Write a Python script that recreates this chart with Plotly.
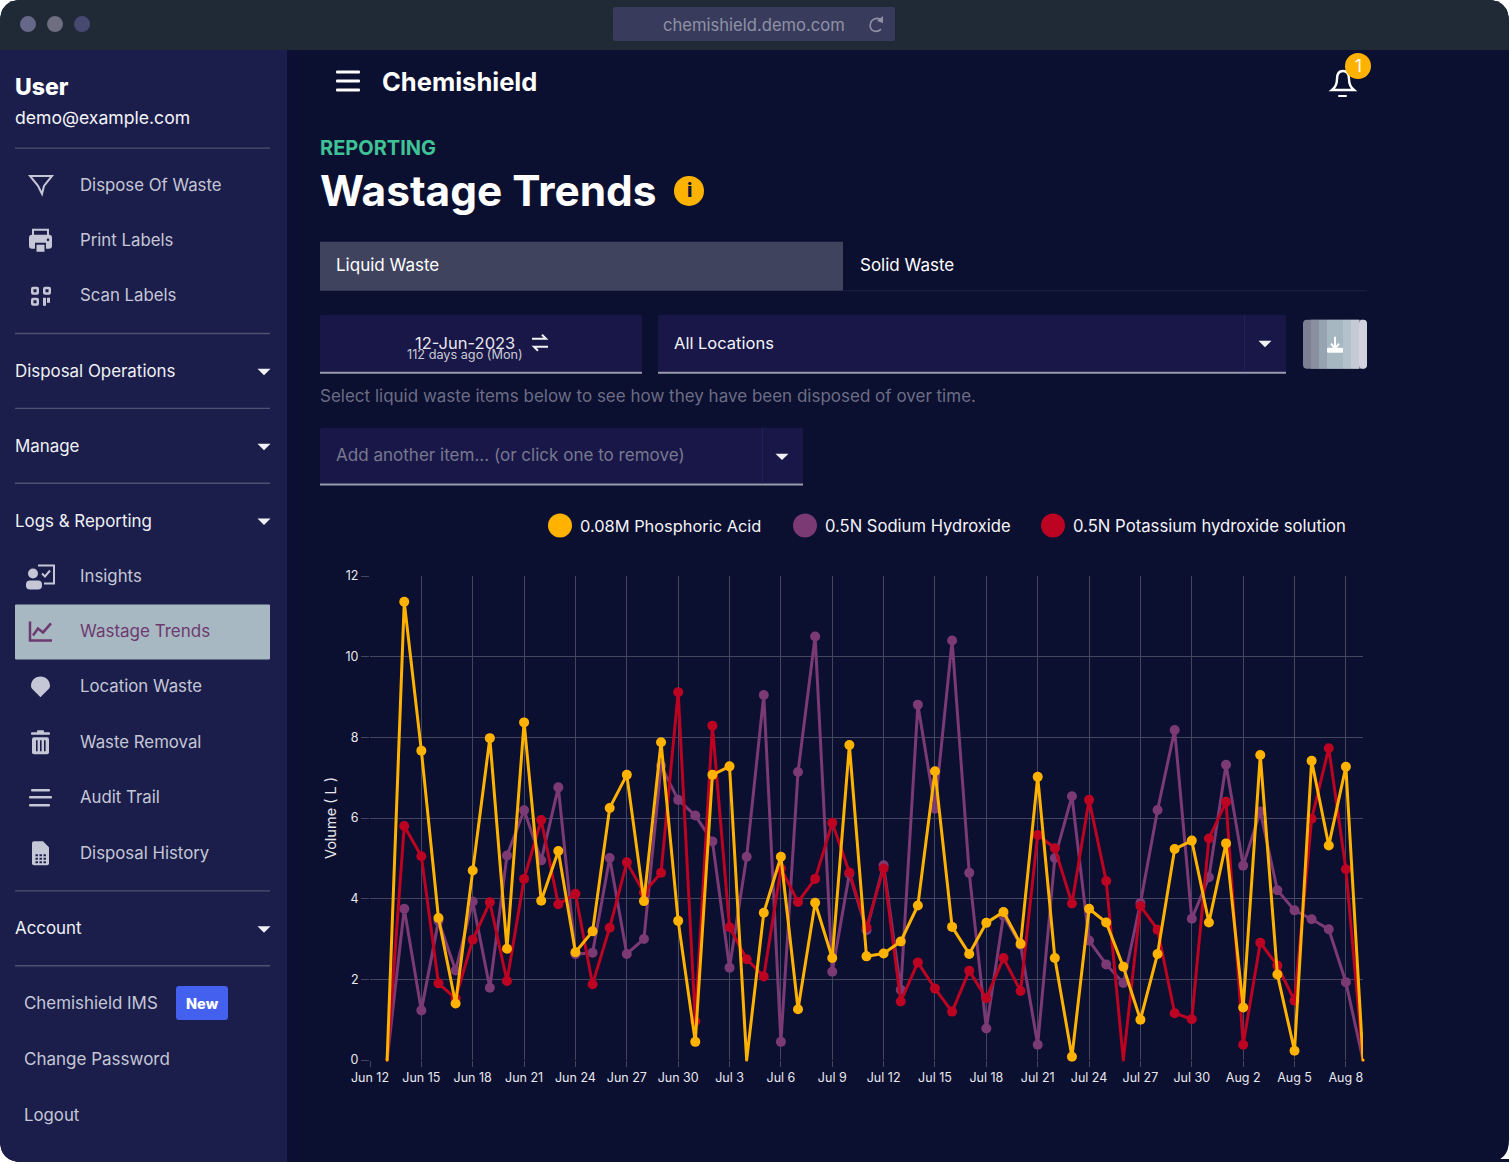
import plotly.graph_objects as go
import numpy as np

esquerda, direita = 370, 1363 # area do grafico, em pixels
topo, base = 575.7, 1060.2
ajuste = 0.8 # a pagina desenha um pouco abaixo
fonte = 'Inter'

def X(px):
    return (px - esquerda) / (direita - esquerda)

def Y(py):
    return (base - py + ajuste) / (base - topo)

def converte(caminho):
    saida = []
    eixo = 0
    for parte in caminho.split():
        if parte.isalpha():
            saida.append(parte)
            eixo = 0
        else:
            saida.append(str(X(float(parte)) if eixo == 0 else Y(float(parte))))
            eixo = 1 - eixo
    return ' '.join(saida)

formas = []
textos = []

def forma(caminho, cor=None, contorno=None, largura=0):
    formas.append(dict(type='path', xref='paper', yref='paper', path=converte(caminho),
                       fillcolor=cor if cor else 'rgba(0,0,0,0)', layer='below',
                       line=dict(color=contorno if contorno else 'rgba(0,0,0,0)', width=largura)))

def caixa(x0, y0, x1, y1, cor, r=0):
    forma(f'M {x0+r} {y0} L {x1-r} {y0} Q {x1} {y0} {x1} {y0+r} L {x1} {y1-r} Q {x1} {y1} {x1-r} {y1} '
          f'L {x0+r} {y1} Q {x0} {y1} {x0} {y1-r} L {x0} {y0+r} Q {x0} {y0} {x0+r} {y0} Z', cor)

def linha(caminho, cor, largura=2):
    forma(caminho, None, cor, largura)

def bola(cx, cy, r, cor):
    formas.append(dict(type='circle', xref='paper', yref='paper', x0=X(cx-r), x1=X(cx+r), y0=Y(cy+r), y1=Y(cy-r),
                       fillcolor=cor, line=dict(width=0), layer='below'))

def texto(x, y, s, tamanho, cor, ancora='left', peso=400):
    if ancora == 'left':
        x = x - 1 # margem interna da fonte
    textos.append(dict(x=X(x), y=Y(y), xref='paper', yref='paper', text=s, showarrow=False, xanchor=ancora,
                       yanchor='middle', borderpad=0, font=dict(family=fonte, size=tamanho, color=cor, weight=peso)))

def seta(cx, cy, cor='#f1f1f5'):
    forma(f'M {cx-6.5} {cy-3} L {cx+6.5} {cy-3} L {cx} {cy+3.5} Z', cor)


######## Dados ########

datas = np.arange(np.datetime64('2023-06-13'), np.datetime64('2023-08-10')).astype(str).tolist()

fosforico = [0, 11.36, 7.67, 3.52, 1.40, 4.70, 7.98, 2.76, 8.37, 3.95, 5.18, 2.67, 3.19, 6.25, 7.07, 3.94, 7.88, 3.45,
             0.45, 7.07, 7.28, 0, 3.65, 5.04, 1.26, 3.90, 2.53, 7.81, 2.57, 2.64, 2.94, 3.83, 7.16, 3.30, 2.63, 3.40,
             3.67, 2.88, 7.02, 2.53, 0.08, 3.75, 3.41, 2.31, 1.00, 2.63, 5.23, 5.44, 3.41, 5.37, 1.30, 7.56, 2.12,
             0.23, 7.42, 5.32, 7.27, 0]
sodio = [0, 3.75, 1.23, 3.45, 2.22, 3.93, 1.79, 5.07, 6.19, 4.95, 6.76, 2.62, 2.66, 5.01, 2.63, 3.00, 7.30, 6.45,
         6.06, 5.42, 2.29, 5.04, 9.05, 0.45, 7.14, 10.50, 2.19, 4.62, 3.22, 4.83, 1.74, 8.81, 6.23, 10.40, 4.64, 0.78,
         3.58, 2.85, 0.38, 5.01, 6.54, 2.96, 2.37, 1.91, 3.89, 6.20, 8.18, 3.50, 4.53, 7.32, 4.82, 6.16, 4.21,
         3.71, 3.49, 3.24, 1.93, 0]
potassio = [0, 5.80, 5.05, 1.90, 1.53, 2.98, 3.91, 1.96, 4.49, 5.95, 3.86, 4.12, 1.88, 3.28, 4.90, 4.15, 4.64, 9.12,
            0.96, 8.29, 3.29, 2.50, 2.07, 4.75, 3.92, 4.49, 5.88, 4.65, 3.29, 4.75, 1.45, 2.42, 1.77, 1.20, 2.21, 1.53,
            2.53, 1.71, 5.58, 5.25, 3.88, 6.45, 4.44, 0, 3.82, 3.23, 1.16, 1.01, 5.49, 6.40, 0.38, 2.91, 2.34,
            1.47, 5.98, 7.73, 4.73, 0]

colors = ['#7b3a73', '#bc0322', '#ffb300']
nomes = ['0.5N Sodium Hydroxide', '0.5N Potassium hydroxide solution', '0.08M Phosphoric Acid']


######## Janela ########

caixa(0, 0, 1509, 1163, '#0b0f30', 22)
forma('M 0 50 L 0 22 Q 0 0 22 0 L 1487 0 Q 1509 0 1509 22 L 1509 50 Z', '#1f2a36')
forma('M 0 50 L 287 50 L 287 1163 L 22 1163 Q 0 1163 0 1141 Z', '#1b1e4b')
caixa(287, 50, 298, 1163, '#0c0e33')
caixa(287, 1160, 1509, 1163, '#0b0f30')
bola(28, 24, 8, '#66688a')
bola(55, 24, 8, '#6e6e80')
bola(82, 24, 8, '#474a70')

caixa(613, 7, 895, 41, '#393b5c', 2)
texto(754, 25, 'chemishield.demo.com', 16.6, '#8f92a6', 'center')
linha('M 882 20 Q 876 16 871.5 21 Q 868.5 26 872 30 Q 877 33 881 29', '#8f92a6', 1.6)
forma('M 883 16 L 883 23 L 877 21 Z', '#8f92a6')

# barra lateral
cinza = '#c5c7d6'
texto(15, 87, 'User', 23, '#ffffff', peso=800)
texto(15, 118, 'demo@example.com', 17.6, '#f4f4f8')
for y in [147.5, 333, 408, 483, 891, 966]:
    caixa(15, y, 270, y+1.4, '#4f5170')

for nome, y in [('Dispose Of Waste', 185), ('Print Labels', 240), ('Scan Labels', 295), ('Insights', 576),
                ('Location Waste', 687), ('Waste Removal', 743), ('Audit Trail', 798), ('Disposal History', 854)]:
    texto(80, y, nome, 16.8, cinza)

for nome, y in [('Disposal Operations', 371), ('Manage', 446), ('Logs & Reporting', 521), ('Account', 929)]:
    texto(15, y, nome, 16.9, '#f1f1f5')
    seta(264, y+1)

caixa(15, 605, 270, 660, '#a7b8c3', 1)
texto(80, 632, 'Wastage Trends', 17, '#6d3a6f')
texto(24, 1004, 'Chemishield IMS', 16.9, cinza)
caixa(176, 987, 228, 1021, '#4361ee', 3)
texto(202, 1004, 'New', 14.5, '#ffffff', 'center', 800)
texto(24, 1060, 'Change Password', 17, cinza)
texto(24, 1116, 'Logout', 16.8, cinza)

# icones
fundo = '#1b1e4b'
linha('M 30 176 L 52 176 L 44 186 L 42 194 L 38 186 Z', cinza, 2)
caixa(29, 235, 52, 249, cinza, 3)
linha('M 33 236 L 33 230 L 48 230 L 48 236', cinza, 2)
caixa(35, 243, 46, 250, fundo)
caixa(36.5, 245, 44.5, 252, cinza)
bola(48, 240, 1.3, fundo)
for qx, qy in [(31, 287), (43, 287), (31, 298)]:
    caixa(qx, qy, qx+8, qy+8, cinza, 2)
    caixa(qx+2.5, qy+2.5, qx+5.5, qy+5.5, fundo)
caixa(43, 298, 46, 306, cinza)
caixa(47, 298, 50, 303, cinza)
linha('M 38 566 L 54 566 L 54 584 L 44 584', cinza, 2)
linha('M 42 574 L 45 577 L 50 571', cinza, 2)
bola(33, 574, 5, cinza)
caixa(26, 581, 42, 590, cinza, 4)
linha('M 30 622 L 30 641 L 52 641', '#6d3a6f', 2.5)
linha('M 33 636 L 38 629 L 43 633 L 51 624', '#6d3a6f', 2.5)
forma('M 40.5 698 C 36 692 31 690 31 686.5 C 31 681 35 677 40.5 677 C 46 677 50 681 50 686.5 C 50 690 45 692 40.5 698 Z', cinza)
caixa(31, 733, 50, 735.5, cinza, 1)
caixa(37, 731, 44, 734, cinza, 1)
caixa(32, 738, 49, 755, cinza, 2)
for fx in [36, 40, 44]:
    caixa(fx, 741, fx+1.6, 752, fundo)
for fy, x0, x1 in [(791, 31, 50), (798, 29, 52), (806, 29, 50)]:
    caixa(x0, fy-1.2, x1, fy+1.2, cinza, 1)
forma('M 32 844 Q 32 842 34 842 L 43 842 L 49 848 L 49 864 Q 49 866 47 866 L 34 866 Q 32 866 32 864 Z', cinza)
for gy in [855, 858.5, 862]:
    for gx in [35.5, 39.5, 43.5]:
        caixa(gx, gy, gx+2.4, gy+2, fundo)

# cabecalho
for y in [72, 81, 90]:
    caixa(336, y-1.5, 360, y+1.5, '#ffffff', 1)
texto(382, 81, 'Chemishield', 25.5, '#ffffff', peso=700)
linha('M 1332 90 Q 1337 86 1337 79 Q 1337 71 1343 71 Q 1349 71 1349 79 Q 1349 86 1354 90 Z', '#ffffff', 2.4)
caixa(1338, 95, 1347, 97, '#ffffff', 1)
bola(1358, 66, 13, '#ffb300')
texto(1358, 66, '1', 17, '#ffffff', 'center')

texto(320, 148, 'REPORTING', 20, '#3ec296', peso=700)
texto(320, 191, 'Wastage Trends', 42.4, '#ffffff', peso=700)
bola(689, 191, 15, '#ffb300')
texto(689, 191, 'i', 19, '#10143a', 'center', 800)

# abas
caixa(320, 242, 843, 291, '#3f435d')
caixa(843, 290.5, 1367, 291.5, '#1e2140')
texto(336, 265, 'Liquid Waste', 17, '#ffffff')
texto(860, 265, 'Solid Waste', 17, '#ffffff')

# filtros
roxo = '#191747'
caixa(320, 315, 642, 372, roxo, 2)
caixa(320, 372, 642, 374, '#9a9bb0')
texto(465, 343, '12-Jun-2023', 16.5, '#e8e8ee', 'center')
texto(465, 355, '112 days ago (Mon)', 12.7, '#c9cad6', 'center')
linha('M 532 339 L 546 339 L 542 335', '#f1f1f5', 2)
linha('M 548 347 L 534 347 L 538 351', '#f1f1f5', 2)

caixa(658, 315, 1286, 372, roxo, 2)
caixa(658, 372, 1286, 374, '#9a9bb0')
caixa(1244, 315, 1245, 372, '#22205a')
texto(674, 343, 'All Locations', 16.5, '#f4f4f8')
seta(1265, 344)

faixas = ['#7d8093', '#8a8f9f', '#97a3b0', '#a6b7c2', '#a6b7c2', '#b4c0ca', '#c4cbd5', '#d0d3de']
caixa(1303, 320, 1367, 369, faixas[0], 4)
for k in range(1, len(faixas)):
    fx = 1303 + k * 8
    caixa(fx, 320, 1367 if k == len(faixas) - 1 else fx + 8, 369, faixas[k], 4 if k == len(faixas) - 1 else 0)
caixa(1327, 348, 1343, 353, '#ffffff', 1)
linha('M 1335 337 L 1335 348 M 1331 344 L 1335 349 L 1339 344', '#ffffff', 2)

texto(320, 396, 'Select liquid waste items below to see how they have been disposed of over time.', 17, '#6b6d85')

caixa(320, 428, 803, 484, roxo, 2)
caixa(320, 484, 803, 486, '#9a9bb0')
caixa(762, 428, 763, 484, '#22205a')
texto(336, 455, 'Add another item... (or click one to remove)', 17.05, '#77798f')
seta(782, 457)

# legenda
bola(560, 526, 12, colors[2])
texto(580, 526, nomes[2], 16.4, '#f4f4f8')
bola(805, 526, 12, colors[0])
texto(825, 526, nomes[0], 16.6, '#f4f4f8')
bola(1053, 526, 12, colors[1])
texto(1073, 526, nomes[1], 16.7, '#f4f4f8')


######## Grafico ########

fig = go.Figure()

for k, serie in enumerate([sodio, potassio, fosforico]):
    fig.add_trace(
        go.Scatter(x = datas,
                    y = serie,
                    name = nomes[k],
                    hoverinfo = 'x+y',
                    mode='lines+markers',
                    line=dict(color=colors[k], width=3),
                    marker=dict(color=colors[k], size=[3 if v == 0 else 10 for v in serie], opacity=1, line=dict(width=0)),
                    cliponaxis=False,
                    showlegend=False,
                    )
    )

grade = '#44465f'
fig.update_xaxes(type='date', range=['2023-06-12', '2023-08-09'], tick0='2023-06-12', dtick=3*86400000,
                 tickformat='%b %-d', ticks='outside', ticklen=6, tickcolor=grade, showgrid=True, gridcolor=grade,
                 gridwidth=1, zeroline=False, showline=False, tickfont=dict(family=fonte, size=12.5, color='#e8e8ee'))
fig.update_yaxes(range=[0, 12], tick0=0, dtick=2, ticks='outside', ticklen=8, tickcolor=grade, showgrid=True,
                 gridcolor=grade, gridwidth=1, zeroline=False, showline=False,
                 title=dict(text='Volume ( L )', standoff=5, font=dict(family=fonte, size=14.5, color='#e8e8ee')),
                 tickfont=dict(family=fonte, size=12.5, color='#e8e8ee'))

fig.update_layout(template='none', width=1510, height=1164,
                  margin=dict(l=esquerda, r=1510-direita, t=topo, b=1164-base, pad=0),
                  paper_bgcolor='#ffffff', plot_bgcolor='rgba(0,0,0,0)',
                  shapes=formas, annotations=textos)
fig.write_html("out.html", config=dict(displayModeBar=False),
               post_script="document.body.style.margin='0';document.body.style.overflow='hidden';")
